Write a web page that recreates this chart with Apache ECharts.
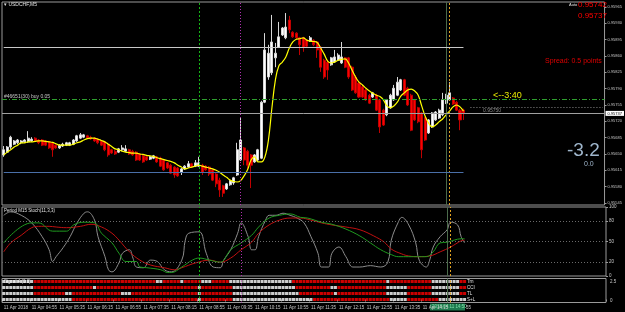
<!DOCTYPE html>
<html><head><meta charset="utf-8">
<script src="https://cdn.jsdelivr.net/npm/echarts@6/dist/echarts.min.js"></script>
<style>html,body{margin:0;padding:0;background:#000;}#c{width:625px;height:312px;}</style>
</head><body><div id="c"></div>
<script>
// ---- price data (points, 1 point = 0.00001) ----
const opens = [95648,95654,95665,95671,95674,95674,95676,95676,95678,95684,
95680,95680,95678,95676,95674,95669,95663,95667,95669,95669,
95671,95678,95684,95686,95689,95686,95684,95682,95678,95676,
95671,95659,95656,95654,95659,95656,95659,95656,95654,95650,
95646,95644,95639,95641,95644,95641,95637,95631,95626,95622,
95620,95611,95618,95622,95629,95624,95624,95626,95624,95622,
95616,95607,95594,95582,95575,95584,95588,95605,95637,95663,
95656,95648,95633,95637,95641,95761,95815,95824,95856,95879,
95905,95899,95937,95911,95909,95899,95899,95894,95892,95894,
95890,95879,95851,95847,95841,95847,95851,95845,95856,95856,
95836,95815,95802,95794,95787,95776,95772,95776,95766,95744,
95734,95749,95766,95776,95787,95809,95791,95776,95766,95749,
95738,95727,95695,95708,95723,95727,95734,95759,95766,95770,
95761,95744,95744];
const closes = [95659,95665,95686,95678,95680,95678,95680,95684,95682,95678,
95674,95669,95669,95663,95659,95663,95669,95671,95674,95674,
95680,95689,95691,95691,95684,95682,95678,95674,95669,95659,
95648,95652,95650,95661,95663,95661,95650,95648,95637,95637,
95633,95637,95644,95646,95633,95624,95616,95620,95609,95605,
95603,95618,95624,95629,95622,95631,95631,95611,95616,95607,
95594,95586,95573,95566,95586,95592,95599,95659,95680,95637,
95626,95626,95648,95659,95761,95873,95866,95890,95866,95901,
95920,95922,95916,95901,95899,95884,95879,95881,95899,95884,
95873,95836,95815,95830,95856,95858,95862,95858,95836,95815,
95787,95781,95772,95772,95766,95759,95781,95744,95708,95712,
95766,95776,95791,95804,95809,95776,95755,95701,95723,95719,
95659,95680,95723,95738,95740,95744,95766,95776,95781,95757,
95744,95723,95737];
const lows = [95644,95652,95661,95669,95671,95671,95674,95674,95676,95676,
95671,95667,95667,95661,95644,95661,95661,95665,95667,95667,
95669,95676,95682,95684,95682,95680,95676,95671,95667,95656,
95644,95650,95648,95652,95656,95654,95648,95646,95635,95635,
95631,95635,95637,95639,95631,95622,95614,95618,95607,95599,
95601,95605,95616,95620,95620,95622,95622,95605,95614,95603,
95592,95579,95558,95558,95573,95582,95584,95603,95635,95626,
95616,95577,95631,95635,95639,95759,95809,95819,95836,95877,
95903,95896,95909,95899,95896,95862,95869,95879,95890,95881,
95856,95826,95811,95809,95839,95845,95849,95843,95834,95811,
95785,95779,95770,95770,95764,95757,95770,95742,95695,95710,
95731,95747,95764,95774,95785,95774,95753,95699,95721,95716,
95641,95678,95693,95706,95721,95725,95731,95757,95764,95755,
95742,95701,95723];
const highs = [95667,95667,95689,95680,95682,95680,95682,95699,95686,95686,
95682,95682,95680,95678,95676,95671,95671,95674,95676,95676,
95682,95691,95695,95693,95691,95689,95686,95684,95680,95678,
95674,95661,95659,95663,95669,95669,95661,95659,95656,95652,
95648,95646,95646,95648,95646,95644,95639,95633,95629,95624,
95622,95620,95626,95635,95631,95637,95644,95629,95626,95624,
95618,95609,95599,95584,95588,95594,95601,95674,95727,95665,
95659,95650,95650,95661,95764,95909,95884,95948,95888,95933,
95922,95952,95946,95913,95911,95901,95901,95896,95903,95896,
95892,95881,95854,95851,95858,95873,95866,95890,95858,95858,
95839,95819,95804,95798,95789,95779,95783,95779,95768,95747,
95768,95779,95798,95815,95811,95811,95794,95779,95768,95751,
95740,95729,95725,95740,95742,95747,95781,95779,95804,95772,
95764,95747,95747];
const maValues = [95648,95654,95659,95665,95669,95674,95674,95676,95676,95677,
95678,95678,95677,95676,95675,95672,95669,95669,95669,95669,
95671,95674,95676,95680,95683,95684,95684,95682,95679,95676,
95671,95666,95661,95659,95656,95654,95653,95652,95652,95650,
95649,95647,95646,95645,95642,95640,95638,95636,95634,95631,
95626,95622,95618,95620,95622,95624,95626,95624,95622,95620,
95618,95615,95611,95605,95600,95594,95591,95590,95593,95603,
95616,95637,95644,95633,95633,95644,95680,95749,95809,95839,
95847,95858,95877,95890,95896,95897,95899,95894,95892,95891,
95889,95877,95864,95849,95845,95847,95851,95853,95854,95845,
95830,95815,95804,95798,95791,95785,95780,95776,95773,95766,
95753,95749,95753,95761,95774,95781,95787,95789,95785,95776,
95753,95731,95716,95708,95712,95719,95725,95734,95742,95751,
95755,95751,95742];
const priceTicks = [95545,95580,95615,95650,95685,95720,95755,95790,95825,95860,95895,95930,95965];
const currentPrice = 95737;
const levelGray = 95879, levelBlue = 95611, levelOrder = 95768, levelDotted = 95750;
const timeLabels = ['11 Apr 2018','11 Apr 04:55','11 Apr 05:35','11 Apr 06:15','11 Apr 06:55','11 Apr 07:35','11 Apr 08:15','11 Apr 08:55','11 Apr 09:35','11 Apr 10:15','11 Apr 10:55','11 Apr 11:35','11 Apr 12:15','11 Apr 12:55','11 Apr 13:35','11 Apr 14:15'];
// ---- stochastic readings [bar, value] ----
const stochMain = [[0,48],[8,77],[10,77],[14,65],[18,65],[20,74],[23,78],[26,77],[28,62],[31,48],[33,33],[35,21],[38,21],[39,13],[41,12],[45,9],[47,5],[48,5],[51,13],[54,23],[56,26],[59,23],[62,20],[65,38],[68,48],[71,59],[73,71],[76,84],[79,88],[82,90],[85,85],[87,84],[91,78],[94,75],[98,68],[102,58],[105,48],[108,38],[111,31],[113,28],[116,28],[121,28],[123,35],[125,48],[127,49],[129,52],[131,54],[132,54]];
const stochSignal = [[0,35],[2,48],[5,59],[8,70],[10,72],[13,72],[15,71],[18,70],[22,72],[25,75],[28,71],[31,62],[33,52],[36,35],[39,23],[42,16],[46,12],[49,9],[51,12],[55,19],[59,23],[62,20],[65,26],[68,38],[71,49],[73,62],[76,74],[79,81],[82,84],[85,84],[88,81],[91,77],[94,74],[98,71],[102,67],[106,58],[109,49],[111,39],[114,32],[116,29],[119,28],[122,29],[125,35],[128,42],[131,51],[132,52]];
const stochFast = [[0,88],[2,93],[5,88],[8,77],[11,57],[13,38],[14,21],[15,28],[17,41],[19,57],[21,77],[23,91],[24,93],[26,81],[27,57],[29,28],[30,9],[31,6],[33,19],[34,33],[36,38],[37,26],[38,13],[40,12],[42,23],[44,21],[46,9],[48,6],[51,23],[52,52],[53,62],[56,64],[58,33],[60,13],[62,12],[63,23],[65,38],[67,62],[68,77],[70,57],[71,38],[72,38],[73,57],[75,81],[76,88],[78,88],[80,91],[82,88],[84,84],[86,77],[88,57],[90,33],[91,13],[93,13],[94,33],[96,42],[98,28],[100,13],[102,13],[105,15],[108,13],[110,20],[111,52],[113,78],[114,85],[116,74],[118,48],[119,23],[121,13],[122,23],[123,42],[125,57],[127,67],[128,78],[130,74],[131,57],[132,48]];
const stochLevels = [20,50,80];
const stochTicks = [0,20,50,80,100];
// ---- signal matrix (runs of W=white, R=red per bar) ----
const rowNames = ['Trn','CCI','TL','S+L'];
const trnRuns = [['W',9],['R',35],['W',2],['R',5],['W',1],['R',5],['W',3],['R',5],['W',18],['R',27],['W',1],['R',12],['W',8],['R',2]];
const cciRuns = [['W',9],['R',17],['W',1],['R',29],['W',1],['R',9],['W',18],['R',10],['W',2],['R',14],['W',6],['R',7],['W',8],['R',2]];
const tlRuns = [['W',9],['R',9],['W',2],['R',14],['W',3],['R',19],['W',1],['R',9],['W',19],['R',10],['W',1],['R',14],['W',6],['R',7],['W',8],['R',2]];
const slRuns = [['W',20],['R',36],['W',1],['R',9],['W',23],['R',22],['W',5],['R',9],['W',8]];
const vMarks = {green: 56, magenta: 68, dark: 127, orange: 128};

const N = 173;
const cats = []; for (let i = 0; i < N; i++) cats.push(String(i));
const candles = opens.map((o, i) => [o, closes[i], lows[i], highs[i]]);
const lastBar = String(opens.length - 1);
const redDots = [], whiteDots = [];
[trnRuns, cciRuns, tlRuns, slRuns].forEach((runs, r) => {
  let i = 0; const row = 3 - r;
  runs.forEach(([s, n]) => { for (let k = 0; k < n; k++, i++) (s === 'R' ? redDots : whiteDots).push([i, row]); });
});

const FONT = '"Liberation Sans", Arial, sans-serif';
function vLines(){
  return [
    {xAxis: String(vMarks.green), lineStyle:{color:'#14b414', type:[2,2], width:1}},
    {xAxis: String(vMarks.magenta), lineStyle:{color:'#b030b0', type:[1,2], width:1}},
    {xAxis: String(vMarks.dark), lineStyle:{color:'#4b6b4b', type:'solid', width:1}},
    {xAxis: String(vMarks.orange), lineStyle:{color:'#e0a020', type:[2,2], width:1}}
  ];
}
const ml = (data) => ({silent:true, symbol:['none','none'], animation:false, label:{show:false}, data});

const chart = echarts.init(document.getElementById('c'));
chart.setOption({
  backgroundColor:'#000',
  animation:false,
  grid:[
    {left:2, top:2, width:604, height:203, show:true, borderColor:'#9a9a9a', borderWidth:1},
    {left:2, top:207, width:604, height:69, show:true, borderColor:'#9a9a9a', borderWidth:1},
    {left:2, top:278.5, width:604, height:24, show:true, borderColor:'#9a9a9a', borderWidth:1}
  ],
  xAxis:[0,1,2].map(g => ({
    type:'category', gridIndex:g, data:cats, boundaryGap:true,
    axisLine:{show:false}, splitLine:{show:false},
    axisTick: g===2 ? {show:true, length:2, lineStyle:{color:'#9a9a9a'}, interval:(i)=> i%8===0 && i/8 < timeLabels.length} : {show:false},
    axisLabel: g===2 ? {show:true, interval:(i)=> i%8===0 && i/8 < timeLabels.length, formatter:(v,i)=> timeLabels[Math.round(Number(v)/8)] || '', align:'left', fontSize:4.5, color:'#c8c8c8', margin:2.5, fontFamily:FONT} : {show:false}
  })),
  yAxis:[
    {type:'value', gridIndex:0, position:'right', min:95540.7, max:95975.7, splitLine:{show:false}, axisLine:{show:false},
      axisTick:{show:true, customValues:priceTicks, length:2, lineStyle:{color:'#9a9a9a'}},
      axisLabel:{customValues:priceTicks, formatter:(v)=> (v/100000).toFixed(5), fontSize:4, color:'#c8c8c8', margin:3, fontFamily:FONT}},
    {type:'value', gridIndex:1, position:'right', min:0, max:100, splitLine:{show:false}, axisLine:{show:false},
      axisTick:{show:true, customValues:stochTicks, length:2, lineStyle:{color:'#9a9a9a'}},
      axisLabel:{customValues:stochTicks, fontSize:4.5, color:'#c8c8c8', margin:3, fontFamily:FONT}},
    {type:'value', gridIndex:2, position:'right', min:-0.5, max:3.5, splitLine:{show:false}, axisLine:{show:false}, axisTick:{show:false}, axisLabel:{show:false}}
  ],
  series:[
    {type:'candlestick', xAxisIndex:0, yAxisIndex:0, data:candles, barWidth:'72%',
      itemStyle:{color:'#ffffff', color0:'#ff0000', borderColor:'#d8d8d8', borderColor0:'#c00000', borderWidth:1},
      markLine: ml([
        ...vLines(),
        [{coord:['0', levelGray], lineStyle:{color:'#c8c8c8', width:1, type:'solid'}}, {coord:[lastBar, levelGray]}],
        [{coord:['0', levelBlue], lineStyle:{color:'#4a6fa8', width:1, type:'solid'}}, {coord:[lastBar, levelBlue]}],
        {yAxis: levelOrder, lineStyle:{color:'#2ea02e', width:1, type:[5,2,1,2]}},
        [{coord:['134', levelDotted], lineStyle:{color:'#8a8a8a', width:1, type:[1,2]}}, {coord:['172', levelDotted]}],
        {yAxis: currentPrice, lineStyle:{color:'#a0a0a0', width:1, type:'solid'},
          label:{show:true, position:'end', distance:1, formatter:(currentPrice/100000).toFixed(5), backgroundColor:'#ffffff', color:'#000', fontSize:4, padding:[1,2,0,2], fontFamily:FONT}}
      ])},
    {type:'line', xAxisIndex:0, yAxisIndex:0, data:maValues, smooth:0.4, showSymbol:false, lineStyle:{color:'#ffff00', width:1.2}},
    {type:'line', xAxisIndex:1, yAxisIndex:1, data:stochFast, smooth:0.4, showSymbol:false, lineStyle:{color:'#8c8c8c', width:1},
      markLine: ml([...stochLevels.map(v => ({yAxis:v, lineStyle:{color:'#6a6a6a', type:[1,2], width:1}})), ...vLines()])},
    {type:'line', xAxisIndex:1, yAxisIndex:1, data:stochSignal, smooth:0.4, showSymbol:false, lineStyle:{color:'#c01010', width:1}},
    {type:'line', xAxisIndex:1, yAxisIndex:1, data:stochMain, smooth:0.4, showSymbol:false, lineStyle:{color:'#1f9a1f', width:1}},
    {type:'scatter', xAxisIndex:2, yAxisIndex:2, data:whiteDots, symbol:'rect', symbolSize:[3,3], itemStyle:{color:'#ffffff'}, silent:true,
      markLine: ml(vLines())},
    {type:'scatter', xAxisIndex:2, yAxisIndex:2, data:redDots, symbol:'rect', symbolSize:[3,3], itemStyle:{color:'#ff0000'}, silent:true}
  ],
  graphic:{elements:[
    {type:'text', left:4, top:2.5, style:{text:'\u25BE USDCHF,M5', fill:'#e0e0e0', font:'5px '+FONT}},
    {type:'text', left:4, top:94.5, style:{text:'#46651(30) buy 0.05', fill:'#c8c8c8', font:'5px '+FONT}},
    {type:'text', left:569, top:3, style:{text:'Auto', fill:'#e0e0e0', font:'4px '+FONT}},
    {type:'text', left:578, top:1, style:{text:'0.95742', fill:'#ff0000', font:'8px '+FONT}},
    {type:'text', left:578, top:12, style:{text:'0.95737', fill:'#ff0000', font:'8px '+FONT}},
    {type:'text', left:545, top:58, style:{text:'Spread: 0.5 points', fill:'#e00000', font:'7px '+FONT}},
    {type:'text', left:493, top:91.5, style:{text:'<--3:40', fill:'#e8e800', font:'9px '+FONT}},
    {type:'text', left:483, top:108.5, style:{text:'0.95750', fill:'#8a8a8a', font:'5px '+FONT}},
    {type:'text', left:567, top:141, style:{text:'-3.2', fill:'#9fb6cc', font:'19px '+FONT}},
    {type:'text', left:584, top:161, style:{text:'0.0', fill:'#9fb6cc', font:'7px '+FONT}},
    {type:'text', left:4, top:208.5, style:{text:'Period M15 Stoch(11,3,3)', fill:'#e0e0e0', font:'4.5px '+FONT}},
    {type:'text', left:4, top:279.5, style:{text:'Signal 4 (0.0)', fill:'#e0e0e0', font:'4.5px '+FONT}},
    ...rowNames.map((t, r) => ({type:'text', left:467, top:279.5 + r*6, style:{text:t, fill:'#e0e0e0', font:'4.5px '+FONT}})),
    {type:'text', left:610, top:279, style:{text:'2.5', fill:'#c8c8c8', font:'4.5px '+FONT}},
    {type:'text', left:610, top:298, style:{text:'0', fill:'#c8c8c8', font:'4.5px '+FONT}},
    {type:'rect', shape:{x:430, y:303.5, width:35, height:7}, style:{fill:'#1f7a4f'}},
    {type:'text', left:432, top:304.5, style:{text:'2018.04.11 14:50', fill:'#7fe0a8', font:'4.5px '+FONT}},
    {type:'text', left:466, top:305, style:{text:'55', fill:'#c8c8c8', font:'4.5px '+FONT}}
  ]}
});
</script></body></html>
